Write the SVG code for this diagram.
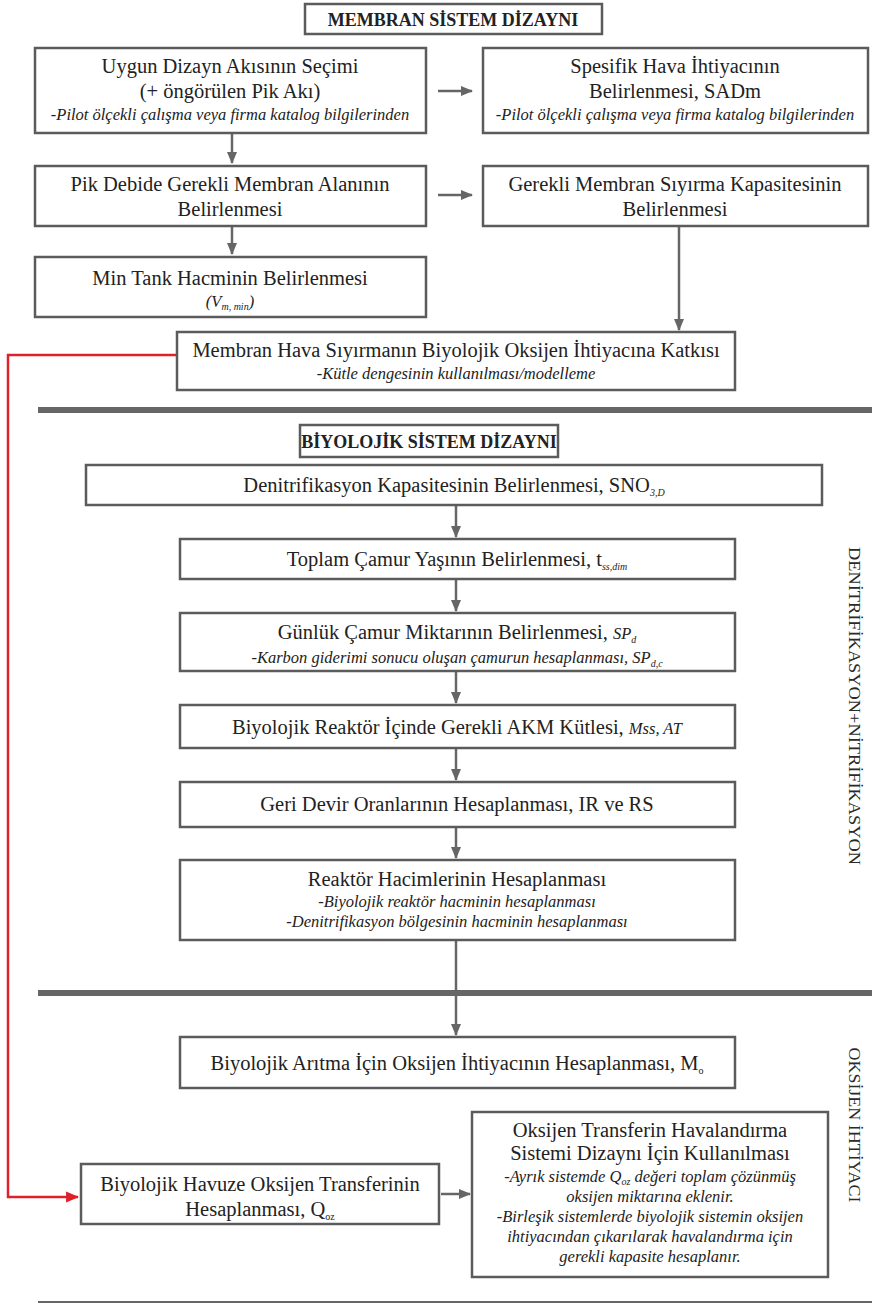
<svg xmlns="http://www.w3.org/2000/svg" width="872" height="1306" viewBox="0 0 872 1306">
<defs>
<style>
.t{font-family:"Liberation Serif",serif;font-size:20.5px;fill:#222;text-anchor:middle}
.i{font-style:italic;font-size:16.5px}
.h{font-weight:bold;font-size:18px}
.s{font-size:10px}
.box{fill:#fff;stroke:#5b5b5b;stroke-width:2.5}
.ar{stroke:#666;stroke-width:2.5;fill:none;marker-end:url(#ah)}
.red{stroke:#e02028;stroke-width:2.5;fill:none;marker-end:url(#rh)}
.sep{stroke:#666;fill:none}
.side{font-family:"Liberation Serif",serif;font-size:17px;fill:#2a2a2a;text-anchor:middle}
</style>
<marker id="ah" markerUnits="userSpaceOnUse" viewBox="0 0 12 12" markerWidth="12" markerHeight="12" refX="11" refY="6" orient="auto"><path d="M0,1 L12,6 L0,11 z" fill="#666"/></marker>
<marker id="rh" markerUnits="userSpaceOnUse" viewBox="0 0 12 12" markerWidth="13" markerHeight="13" refX="11" refY="6" orient="auto"><path d="M0,1 L12,6 L0,11 z" fill="#e02028"/></marker>
</defs>
<rect width="872" height="1306" fill="#fff"/>

<g id="separators">
<line class="sep" x1="38" y1="410" x2="872" y2="410" stroke-width="6"/>
<line class="sep" x1="38" y1="993" x2="872" y2="993" stroke-width="6"/>
<line class="sep" x1="38" y1="1302" x2="872" y2="1302" stroke-width="2"/>
</g>

<g id="connectors">
<line class="ar" x1="438" y1="91" x2="472" y2="91"/>
<line class="ar" x1="232" y1="133" x2="232" y2="163"/>
<line class="ar" x1="438" y1="195" x2="472" y2="195"/>
<line class="ar" x1="232" y1="226" x2="232" y2="254"/>
<line class="ar" x1="679" y1="226" x2="679" y2="330"/>
<polyline class="red" points="177,355 8,355 8,1197 78,1197"/>
<line class="ar" x1="456" y1="505" x2="456" y2="537"/>
<line class="ar" x1="456" y1="579" x2="456" y2="611"/>
<line class="ar" x1="456" y1="671" x2="456" y2="703"/>
<line class="ar" x1="456" y1="748" x2="456" y2="780"/>
<line class="ar" x1="456" y1="827" x2="456" y2="858"/>
<line class="ar" x1="456" y1="940" x2="456" y2="1035"/>
<line class="ar" x1="441" y1="1194" x2="470" y2="1194"/>
</g>

<g id="title1">
<rect class="box" x="305" y="4" width="297" height="30"/>
<text class="t h" x="453" y="26">MEMBRAN SİSTEM DİZAYNI</text>
</g>

<g id="nodeA">
<rect class="box" x="35" y="48" width="391" height="85"/>
<text class="t" x="230" y="73">Uygun Dizayn Akısının Seçimi</text>
<text class="t" x="230" y="98">(+ öngörülen Pik Akı)</text>
<text class="t i" x="230" y="120">-Pilot ölçekli çalışma veya firma katalog bilgilerinden</text>
</g>

<g id="nodeB">
<rect class="box" x="483" y="48" width="385" height="85"/>
<text class="t" x="675" y="73">Spesifik Hava İhtiyacının</text>
<text class="t" x="675" y="98">Belirlenmesi, SADm</text>
<text class="t i" x="675" y="120">-Pilot ölçekli çalışma veya firma katalog bilgilerinden</text>
</g>

<g id="nodeC">
<rect class="box" x="35" y="166" width="391" height="60"/>
<text class="t" x="230" y="191">Pik Debide Gerekli Membran Alanının</text>
<text class="t" x="230" y="216">Belirlenmesi</text>
</g>

<g id="nodeD">
<rect class="box" x="483" y="166" width="385" height="60"/>
<text class="t" x="675" y="191">Gerekli Membran Sıyırma Kapasitesinin</text>
<text class="t" x="675" y="216">Belirlenmesi</text>
</g>

<g id="nodeE">
<rect class="box" x="35" y="257" width="391" height="60"/>
<text class="t" x="230" y="285">Min Tank Hacminin Belirlenmesi</text>
<text class="t i" x="230" y="307" font-size="13">(V<tspan class="s" dy="3">m, min</tspan><tspan dy="-3">)</tspan></text>
</g>

<g id="nodeF">
<rect class="box" x="177" y="332" width="558" height="58"/>
<text class="t" x="456" y="357">Membran Hava Sıyırmanın Biyolojik Oksijen İhtiyacına Katkısı</text>
<text class="t i" x="456" y="379" font-size="13">-Kütle dengesinin kullanılması/modelleme</text>
</g>

<g id="title2">
<rect class="box" x="300" y="425" width="258" height="32"/>
<text class="t h" x="429" y="448" font-size="16.5">BİYOLOJİK SİSTEM DİZAYNI</text>
</g>

<g id="nodeG1">
<rect class="box" x="86" y="465" width="736" height="40"/>
<text class="t" x="454" y="492">Denitrifikasyon Kapasitesinin Belirlenmesi, SNO<tspan class="s i" dy="4">3,D</tspan></text>
</g>

<g id="nodeG2">
<rect class="box" x="180" y="539" width="555" height="40"/>
<text class="t" x="457" y="566">Toplam Çamur Yaşının Belirlenmesi, t<tspan class="s i" dy="4">ss,dim</tspan></text>
</g>

<g id="nodeG3">
<rect class="box" x="180" y="613" width="555" height="58"/>
<text class="t" x="457" y="639">Günlük Çamur Miktarının Belirlenmesi, <tspan class="i" font-size="14">SP</tspan><tspan class="s i" dy="4">d</tspan></text>
<text class="t i" x="457" y="663" font-size="18">-Karbon giderimi sonucu oluşan çamurun hesaplanması, SP<tspan class="s" dy="4">d,c</tspan></text>
</g>

<g id="nodeG4">
<rect class="box" x="180" y="705" width="555" height="43"/>
<text class="t" x="457" y="734">Biyolojik Reaktör İçinde Gerekli AKM Kütlesi, <tspan class="i" font-size="13">Mss, AT</tspan></text>
</g>

<g id="nodeG5">
<rect class="box" x="180" y="782" width="555" height="45"/>
<text class="t" x="457" y="811">Geri Devir Oranlarının Hesaplanması, IR ve RS</text>
</g>

<g id="nodeG6">
<rect class="box" x="180" y="860" width="555" height="80"/>
<text class="t" x="457" y="886">Reaktör Hacimlerinin Hesaplanması</text>
<text class="t i" x="457" y="907">-Biyolojik reaktör hacminin hesaplanması</text>
<text class="t i" x="457" y="927">-Denitrifikasyon bölgesinin hacminin hesaplanması</text>
</g>

<g id="nodeH">
<rect class="box" x="180" y="1037" width="555" height="51"/>
<text class="t" x="457" y="1070">Biyolojik Arıtma İçin Oksijen İhtiyacının Hesaplanması, M<tspan class="s" dy="4">o</tspan></text>
</g>

<g id="nodeK">
<rect class="box" x="81" y="1164" width="358" height="60"/>
<text class="t" x="260" y="1191">Biyolojik Havuze Oksijen Transferinin</text>
<text class="t" x="260" y="1216">Hesaplanması, Q<tspan class="s" dy="4">oz</tspan></text>
</g>

<g id="nodeL">
<rect class="box" x="472" y="1112" width="356" height="165"/>
<text class="t" x="650" y="1137">Oksijen Transferin Havalandırma</text>
<text class="t" x="650" y="1160">Sistemi Dizaynı İçin Kullanılması</text>
<text class="t i" x="650" y="1182" font-size="17">-Ayrık sistemde Q<tspan class="s" dy="3">oz</tspan><tspan dy="-3"> değeri toplam çözünmüş</tspan></text>
<text class="t i" x="650" y="1202" font-size="17">oksijen miktarına eklenir.</text>
<text class="t i" x="650" y="1222" font-size="17">-Birleşik sistemlerde biyolojik sistemin oksijen</text>
<text class="t i" x="650" y="1242" font-size="17">ihtiyacından çıkarılarak havalandırma için</text>
<text class="t i" x="650" y="1262" font-size="17">gerekli kapasite hesaplanır.</text>
</g>

<g id="side-labels">
<text class="side" transform="translate(849,706) rotate(90)" textLength="318" lengthAdjust="spacingAndGlyphs">DENİTRİFİKASYON+NİTRİFİKASYON</text>
<text class="side" transform="translate(849,1125) rotate(90)" textLength="155" lengthAdjust="spacingAndGlyphs">OKSİJEN İHTİYACI</text>
</g>
</svg>
